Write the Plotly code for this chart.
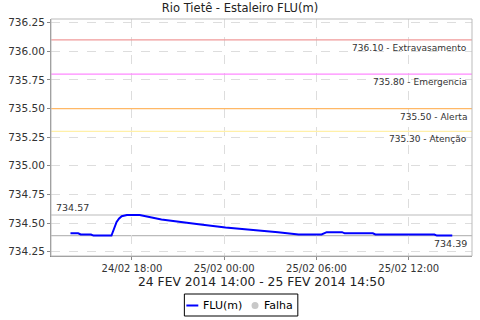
import plotly.graph_objects as go

times = ["2014-02-24 14:00", "2014-02-24 14:30", "2014-02-24 14:40", "2014-02-24 15:20",
         "2014-02-24 15:30", "2014-02-24 16:40", "2014-02-24 16:50", "2014-02-24 17:00",
         "2014-02-24 17:10", "2014-02-24 17:20", "2014-02-24 17:40", "2014-02-24 18:30",
         "2014-02-24 19:55", "2014-02-24 21:15", "2014-02-24 22:20", "2014-02-25 00:05",
         "2014-02-25 02:00", "2014-02-25 03:30", "2014-02-25 04:50", "2014-02-25 06:20",
         "2014-02-25 06:40", "2014-02-25 07:40", "2014-02-25 07:50", "2014-02-25 09:40",
         "2014-02-25 09:50", "2014-02-25 13:40", "2014-02-25 13:50", "2014-02-25 14:50"]
levels = [734.41, 734.41, 734.40, 734.40,
          734.39, 734.39, 734.45, 734.51,
          734.54, 734.56, 734.57, 734.57,
          734.53, 734.51, 734.49, 734.46,
          734.44, 734.42, 734.40, 734.40,
          734.42, 734.42, 734.41, 734.41,
          734.40, 734.40, 734.39, 734.39]

threshold_values = [736.10, 735.80, 735.50, 735.30]
threshold_names = ["Extravasamento", "Emergencia", "Alerta", "Atenção"]
threshold_colors = ["#F09A9A", "#FF88FF", "#FFB866", "#FFF0A8"]

y_ticks = [734.25, 734.50, 734.75, 735.00, 735.25, 735.50, 735.75, 736.00, 736.25]
x_ticks = ["2014-02-24 18:00", "2014-02-25 00:00", "2014-02-25 06:00", "2014-02-25 12:00"]
x_tick_labels = ["24/02 18:00", "25/02 00:00", "25/02 06:00", "25/02 12:00"]

FONT = "DejaVu Sans"

fig = go.Figure()
fig.add_trace(go.Scatter(x=times, y=levels, mode="lines", name="FLU(m)",
                         line=dict(color="#0000FF", width=2), showlegend=False))

shapes = []
annotations = []
for v, n, c in zip(threshold_values, threshold_names, threshold_colors):
    shapes.append(dict(type="line", xref="paper", x0=0, x1=1, yref="y", y0=v, y1=v,
                       line=dict(color=c, width=1.2), layer="above"))
    annotations.append(dict(xref="paper", x=0.993, yref="y", y=v, yshift=-8,
                            text=f"{v:.2f} - {n}", showarrow=False, xanchor="right",
                            yanchor="middle", font=dict(family=FONT, size=9, color="#333")))

vmax, vmin = max(levels), min(levels)
for v in (vmax, vmin):
    shapes.append(dict(type="line", xref="paper", x0=0, x1=1, yref="y", y0=v, y1=v,
                       line=dict(color="#BBBBBB", width=1.2), layer="below"))
annotations.append(dict(xref="paper", x=0.007, yref="y", y=vmax, yshift=8,
                        text=f"{vmax:.2f}", showarrow=False, xanchor="left", yanchor="middle",
                        font=dict(family=FONT, size=9.5, color="#333")))
annotations.append(dict(xref="paper", x=0.993, yref="y", y=vmin, yshift=-8,
                        text=f"{vmin:.2f}", showarrow=False, xanchor="right", yanchor="middle",
                        font=dict(family=FONT, size=9.5, color="#333")))

# plot border
shapes.append(dict(type="rect", xref="paper", yref="paper", x0=0, x1=1, y0=0, y1=1,
                   line=dict(color="#BBBBBB", width=1), layer="above"))

# x-axis title
annotations.append(dict(xref="paper", yref="paper", x=0.5, y=0, yshift=-26,
                        text="24 FEV 2014 14:00 - 25 FEV 2014 14:50", showarrow=False,
                        xanchor="center", yanchor="middle",
                        font=dict(family=FONT, size=12.3, color="#222")))

# legend (manual)
def px(x): return (x - 49) / (472 - 49)
def py(y): return (256 - y) / (256 - 19)
shapes.append(dict(type="rect", xref="paper", yref="paper", x0=px(183), x1=px(297),
                   y0=py(316), y1=py(294), line=dict(color="#000", width=1), fillcolor="white"))
shapes.append(dict(type="line", xref="paper", yref="paper", x0=px(185), x1=px(197),
                   y0=py(305.5), y1=py(305.5), line=dict(color="#0000FF", width=2)))
shapes.append(dict(type="circle", xref="paper", yref="paper", x0=px(250.5), x1=px(257.5),
                   y0=py(309), y1=py(302), line=dict(color="#C8C8C8", width=0), fillcolor="#C8C8C8"))
annotations.append(dict(xref="paper", yref="paper", x=px(200), y=py(305.5), text="FLU(m)",
                        showarrow=False, xanchor="left", yanchor="middle",
                        font=dict(family=FONT, size=11, color="#000")))
annotations.append(dict(xref="paper", yref="paper", x=px(261), y=py(305.5), text="Falha",
                        showarrow=False, xanchor="left", yanchor="middle",
                        font=dict(family=FONT, size=11, color="#000")))

fig.update_layout(
    width=480, height=320, margin=dict(l=49, r=8, t=19, b=64),
    paper_bgcolor="white", plot_bgcolor="white",
    title=dict(text="Rio Tietê - Estaleiro FLU(m)", x=0.5, xanchor="center", y=0.975,
               yanchor="middle", font=dict(family=FONT, size=11.5, color="#222")),
    font=dict(family=FONT, size=10.5, color="#333"),
    showlegend=False,
    shapes=shapes, annotations=annotations,
    xaxis=dict(range=["2014-02-24 12:44", "2014-02-25 16:07"], tickvals=x_ticks,
               ticktext=x_tick_labels, showgrid=True, gridcolor="#DDDDDD", griddash="dash",
               gridwidth=1, showline=True, linecolor="#888888", linewidth=1,
               ticks="outside", ticklen=3, tickcolor="#888888", zeroline=False,
               tickfont=dict(family=FONT, size=10, color="#333")),
    yaxis=dict(range=[734.212, 736.282], tickvals=y_ticks, tickformat=".2f",
               showgrid=True, gridcolor="#DDDDDD", griddash="dash", gridwidth=1,
               showline=True, linecolor="#888888", linewidth=1, ticks="outside",
               ticklen=3, tickcolor="#888888", zeroline=False,
               tickfont=dict(family=FONT, size=10.5, color="#333")),
)

fig.write_html("out.html")
